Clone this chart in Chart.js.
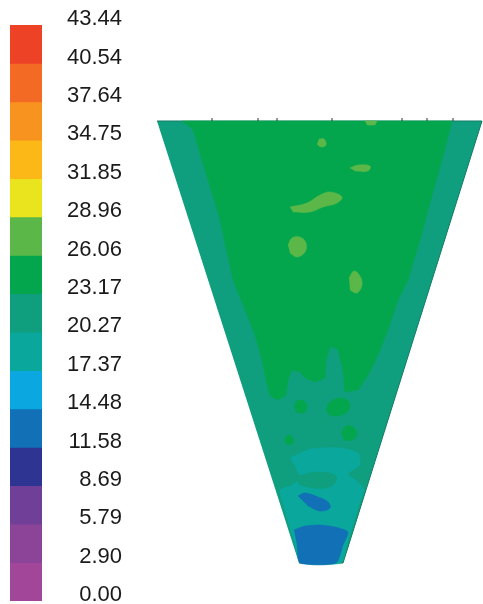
<!DOCTYPE html>
<html>
<head>
<meta charset="utf-8">
<script src="https://cdn.jsdelivr.net/npm/chart.js@4"></script>
<style>
  html, body { margin: 0; padding: 0; background: #fff; overflow: hidden; }
  #wrap { position: relative; width: 483px; height: 604px; overflow: hidden; }
  #scale { position: absolute; left: 0; top: 0; }
  #hopper { position: absolute; left: 140px; top: 0; }
</style>
</head>
<body>
<div id="wrap">
  <canvas id="scale" width="140" height="620"></canvas>
  <canvas id="hopper" width="343" height="604"></canvas>
</div>
<script>
// colour scale: level labels and band colours (lowest band first)
const tickLabels = ['0.00', '2.90', '5.79', '8.69', '11.58', '14.48', '17.37', '20.27',
  '23.17', '26.06', '28.96', '31.85', '34.75', '37.64', '40.54', '43.44'];
const levels = tickLabels.map(Number);
const bandColors = ['#a2469a', '#8c4499', '#703f97', '#2d3491', '#1170b6', '#0aa7e0',
  '#0aa79d', '#0f9f7e', '#04a64d', '#5bb848', '#eae41e', '#fcb816', '#f7931e',
  '#f26a24', '#ee4227'];

// hopper section, x = radial position, y = height above outlet (cm)
const hopperWall = [[-16.3, 44.2], [16.2, 44.2], [2.3, 0], [-2.1, 0]];
const coreZone = [[-13.8, 44.2], [13.2, 44.2], [12.2, 40.3], [10.8, 35.3], [10.0, 32.3],
  [8.8, 28.3], [7.8, 26.3], [6.8, 23.3], [6.0, 21.3], [5.2, 19.5], [4.5, 18.3], [3.8, 17.3],
  [2.5, 17.1], [2.3, 19.3], [1.8, 21.3], [1.0, 21.7], [0.6, 20.3], [0.5, 18.5], [-0.5, 18.1],
  [-1.5, 18.5], [-2.0, 19.1], [-2.8, 19.3], [-3.2, 18.3], [-3.4, 16.8], [-4.2, 16.3],
  [-5.0, 16.7], [-5.4, 18.3], [-5.8, 20.3], [-6.5, 22.8], [-7.5, 25.3], [-8.7, 28.3],
  [-10.0, 34.3], [-12.7, 43.3]];
const patchA = [[-3.0, 35.6], [-1.3, 36.0], [0, 36.8], [1.0, 37.1], [2.2, 36.6], [1.7, 36.0],
  [0.3, 35.6], [-1.0, 35.1], [-2.7, 35.1]];
const patchB = [[-3.2, 31.8], [-2.8, 32.5], [-2.0, 32.6], [-1.4, 32.0], [-1.5, 31.1],
  [-2.3, 30.6], [-3.0, 31.0]];
const patchC = [[2.9, 28.5], [3.4, 29.2], [4.0, 28.7], [4.2, 27.8], [3.7, 27.0], [3.0, 27.3]];
const patchD = [[3.0, 39.5], [3.8, 39.8], [5.0, 39.7], [4.8, 39.2], [3.5, 39.2]];
const patchE = [[-0.1, 42.4], [0.4, 42.4], [0.6, 41.8], [0.1, 41.6], [-0.3, 41.9]];
const patchTop = [[4.5, 44.2], [5.7, 44.2], [5.5, 43.8], [4.7, 43.8]];
const lowerG1 = [[-2.6, 15.6], [-2.3, 16.2], [-1.6, 16.2], [-1.3, 15.5], [-1.7, 15.0], [-2.4, 15.1]];
const lowerG2 = [[0.6, 15.3], [1.0, 16.1], [2.0, 16.5], [2.9, 16.1], [2.8, 15.2], [1.8, 14.7], [0.9, 14.8]];
const lowerG3 = [[-3.6, 12.3], [-3.2, 12.8], [-2.7, 12.5], [-2.8, 11.9], [-3.4, 11.9]];
const lowerG4 = [[2.1, 13.0], [2.6, 13.7], [3.3, 13.6], [3.7, 12.9], [3.2, 12.3], [2.4, 12.3]];
const outletZone = [[-3.0, 10.5], [-1.0, 11.4], [2.0, 11.5], [3.8, 11.0], [4.0, 9.8], [2.8, 8.9],
  [3.8, 8.1], [4.4, 7.3], [3.9, 5.8], [3.3, 3.8], [2.7, 1.8], [2.1, 0], [-1.9, 0], [-2.5, 1.8],
  [-3.1, 3.8], [-3.8, 6.3], [-4.0, 7.3], [-2.8, 7.8], [-2.0, 8.5], [-2.4, 9.5]];
const wallStrip = [[-2.2, 8.7], [-0.2, 9.1], [1.6, 8.7], [1.2, 7.7], [-0.8, 7.5], [-2.2, 7.9]];
const blueLens = [[-2.2, 6.7], [-1.5, 7.0], [-0.2, 6.6], [0.8, 6.1], [1.0, 5.5], [0.0, 5.2], [-1.2, 5.7]];
const outletCore = [[-2.6, 3.3], [-1.5, 3.7], [0, 3.8], [1.5, 3.6], [2.8, 3.1], [2.3, 1.8],
  [1.6, 0], [-2.0, 0], [-2.3, 1.8]];
const meshMarksX = [-10.8, -6.2, -4.3, 1.2, 8.2, 10.7, 13.3];

// regions from bottom layer to top, with the value read for each
const regions = [
  { pts: hopperWall, value: 21.5, smooth: 0, edge: true },
  { pts: coreZone, value: 24.5, smooth: 0 },
  { pts: patchA, value: 27.0, smooth: 0.4 },
  { pts: patchB, value: 27.0, smooth: 0.4 },
  { pts: patchC, value: 27.0, smooth: 0.4 },
  { pts: patchD, value: 27.0, smooth: 0.4 },
  { pts: patchE, value: 27.0, smooth: 0.4 },
  { pts: patchTop, value: 27.0, smooth: 0 },
  { pts: lowerG1, value: 24.5, smooth: 0.4 },
  { pts: lowerG2, value: 24.5, smooth: 0.4 },
  { pts: lowerG3, value: 24.5, smooth: 0.4 },
  { pts: lowerG4, value: 24.5, smooth: 0.4 },
  { pts: outletZone, value: 19.0, smooth: 0.2 },
  { pts: wallStrip, value: 21.5, smooth: 0.4 },
  { pts: blueLens, value: 13.0, smooth: 0.4 },
  { pts: outletCore, value: 13.0, smooth: 0.2 }
];

function colorFor(v) {
  for (let i = 0; i < bandColors.length; i++) {
    if (v >= levels[i] && v < levels[i + 1]) return bandColors[i];
  }
  return bandColors[bandColors.length - 1];
}

// colour bar
new Chart(document.getElementById('scale'), {
  type: 'bar',
  data: {
    labels: ['scale'],
    datasets: [{
      data: bandColors.map((c, i) => ({ x: 'scale', y: [levels[i], levels[i + 1]] })),
      backgroundColor: bandColors,
      borderWidth: 0,
      categoryPercentage: 1,
      barPercentage: 1
    }]
  },
  options: {
    responsive: false,
    animation: false,
    layout: { autoPadding: false, padding: { left: 10, right: 18, top: 25, bottom: 19 } },
    plugins: { legend: { display: false }, tooltip: { enabled: false } },
    scales: {
      x: { display: false },
      y: {
        position: 'right',
        min: levels[0],
        max: levels[levels.length - 1],
        afterBuildTicks: s => { s.ticks = levels.map(v => ({ value: v })); },
        afterFit: s => { s.width = 80; s.paddingTop = 0; s.paddingBottom = 0; },
        grid: { display: false, drawTicks: false },
        border: { display: false },
        ticks: {
          autoSkip: false,
          padding: 23,
          crossAlign: 'far',
          labelOffset: -6,
          color: '#1a1a1a',
          font: { family: 'Liberation Sans', size: 22 },
          callback: (v, i) => tickLabels[i]
        }
      }
    }
  }
});

// hopper contour
const datasets = regions.map((r, i) => ({
  data: r.pts.map(([x, y]) => ({ x, y })),
  backgroundColor: colorFor(r.value),
  borderColor: r.edge ? '#127a62' : colorFor(r.value),
  borderWidth: r.edge ? 1 : 0.5,
  fill: 'shape',
  tension: r.smooth,
  pointRadius: 0,
  order: regions.length - i + 1
}));
datasets.push({
  type: 'scatter',
  data: meshMarksX.map(x => ({ x, y: 44.35 })),
  pointStyle: 'line',
  rotation: 90,
  pointRadius: 1.5,
  borderColor: '#2b3a33',
  borderWidth: 1,
  order: 0
});

new Chart(document.getElementById('hopper'), {
  type: 'line',
  data: { datasets },
  options: {
    responsive: false,
    animation: false,
    layout: { autoPadding: false, padding: 0 },
    plugins: { legend: { display: false }, tooltip: { enabled: false } },
    scales: {
      x: { type: 'linear', min: -18, max: 16.3, display: false },
      y: { type: 'linear', min: -4.1, max: 56.3, display: false }
    }
  }
});
</script>
</body>
</html>
